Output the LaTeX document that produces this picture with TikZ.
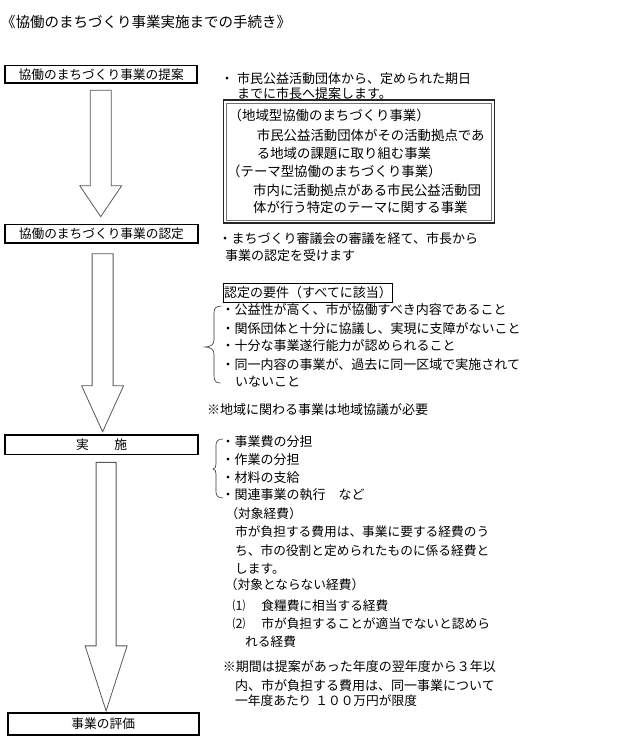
\documentclass[tikz,border=0pt]{standalone}
\usepackage{fontspec}
\setmainfont{Noto Sans CJK JP}
\usetikzlibrary{calc}
\newcommand{\blockarr}[5]{%
  \draw[blockarrow] let \p1=(#1), \p2=(#2) in
    (\x1-#4,\y1) -- (\x1+#4,\y1) -- (\x1+#4,\y2+#3) -- (\x1+#5,\y2+#3)
    -- (\x1,\y2) -- (\x1-#5,\y2+#3) -- (\x1-#4,\y2+#3) -- cycle;}
\tikzset{
  stagebox/.style={draw=black, line width=1.8pt, inner sep=0pt,
    font=\fontsize{12.7}{15}\selectfont},
  txt/.style={anchor=west, inner sep=0pt, text height=11.4pt, text depth=1.6pt,
    font=\fontsize{13}{15}\selectfont},
  txtb/.style={txt, font=\fontsize{13.4}{15}\selectfont},
  txtc/.style={txt, font=\fontsize{12.7}{15}\selectfont},
  blockarrow/.style={draw=black!65, line width=0.8pt, fill=white},
  bracestyle/.style={draw=black!80, line width=0.6pt},
  outerframe/.style={draw=black!85, line width=1.6pt, inner sep=0pt},
  innerframe/.style={draw=black!55, line width=0.6pt, inner sep=0pt},
  reqbox/.style={draw=black, line width=0.8pt, inner xsep=0.8pt, inner ysep=0pt,
    minimum height=19pt, anchor=west, font=\fontsize{13}{15}\selectfont},
}
\begin{document}
\begin{tikzpicture}[x=1pt,y=-1pt]
\useasboundingbox (0,0) rectangle (640,744);
\fill[white] (0,0) rectangle (640,744);

% title
\node[txt, font=\fontsize{14.5}{16}\selectfont, text height=12.8pt, text depth=1.7pt] (title) at (1,21.7) {《協働のまちづくり事業実施までの手続き》};

% stage boxes
\node[stagebox, minimum width=192.3pt, minimum height=17.3pt] (b1) at (101.2,74.2) {協働のまちづくり事業の提案};
\node[stagebox, minimum width=192.8pt, minimum height=18.3pt] (b2) at (101.4,233.7) {協働のまちづくり事業の認定};
\node[stagebox, minimum width=192.8pt, minimum height=19.3pt] (b3) at (101.6,444.8) {実　　施};
\node[stagebox, minimum width=190.9pt, minimum height=21.5pt] (b4) at (103.2,724) {事業の評価};

% block arrows
\coordinate (a1s) at ($(b1.south)+(-0.5,6.5)$);
\coordinate (a1e) at ($(b2.north)+(0,-7)$);
\coordinate (a2s) at ($(b2.south)+(1.2,10)$);
\coordinate (a2e) at ($(b3.north)+(0,-2.5)$);
\coordinate (a3s) at ($(b3.south)+(4.5,7)$);
\coordinate (a3e) at ($(b4.north)+(0,-1.5)$);
\blockarr{a1s}{a1e}{31pt}{10.5pt}{21pt}
\blockarr{a2s}{a2e}{46pt}{10.5pt}{21pt}
\blockarr{a3s}{a3e}{65pt}{10pt}{21pt}

% section 1
\node[txt] (s1a) at (220.5,78.3) {・\hspace{3.5pt}市民公益活動団体から、定められた期日};
\node[txt] (s1b) at (237,93.3) {までに市長へ提案します。};
\node[outerframe, minimum width=271pt, minimum height=123pt] (dbox) at (359,161.7) {};
\node[innerframe, minimum width=264.5pt, minimum height=116.5pt] (dboxin) at (dbox.center) {};
\node[txtb] (d1) at (228.5,115.3) {（地域型協働のまちづくり事業）};
\node[txtb] (d2) at (256.7,135.3) {市民公益活動団体がその活動拠点であ};
\node[txtb] (d3) at (256.7,153.3) {る地域の課題に取り組む事業};
\node[txtb] (d4) at (227,171.7) {（テーマ型協働のまちづくり事業）};
\node[txtb] (d5) at (253,190.8) {市内に活動拠点がある市民公益活動団};
\node[txtb] (d6) at (253,207.5) {体が行う特定のテーマに関する事業};

% section 2
\node[txt] (s2a) at (218.5,238.7) {・まちづくり審議会の審議を経て、市長から};
\node[txt] (s2b) at (225,255.3) {事業の認定を受けます};
\node[reqbox] (req) at (223,292.6) {認定の要件（すべてに該当）};
\node[txt] (r1) at (221.5,310) {・公益性が高く、市が協働すべき内容であること};
\node[txt] (r2) at (221.5,328.3) {・関係団体と十分に協議し、実現に支障がないこと};
\node[txt] (r3) at (221.5,345.7) {・十分な事業遂行能力が認められること};
\node[txt] (r4) at (221.5,364.3) {・同一内容の事業が、過去に同一区域で実施されて};
\node[txt] (r5) at (235,381.7) {いないこと};
\node[txt] (n1) at (207,410) {※地域に関わる事業は地域協議が必要};
\draw[bracestyle] (221.7,306) .. controls (216,306) and (214,308) .. (214,313)
  -- (214,340) .. controls (214,345) and (210,347) .. (205,347)
  .. controls (210,347) and (214,349) .. (214,354)
  -- (214,376) .. controls (214,381) and (216,383) .. (220.7,383);

% section 3
\node[txt] (e1) at (221.5,441.7) {・事業費の分担};
\node[txt] (e2) at (221.5,459.3) {・作業の分担};
\node[txt] (e3) at (221.5,477.3) {・材料の支給};
\node[txt] (e4) at (221.5,495) {・関連事業の執行　など};
\draw[bracestyle] (223,439) .. controls (218.5,439) and (216,441) .. (216,445)
  -- (216,464) .. controls (216,467) and (215,469) .. (213,469)
  .. controls (215,469) and (216,471) .. (216,474)
  -- (216,492) .. controls (216,496) and (218.5,498) .. (223,498);
\node[txtc] (e5) at (225.3,513.7) {（対象経費）};
\node[txtc] (e6) at (235,532) {市が負担する費用は、事業に要する経費のう};
\node[txtc] (e7) at (235,550.3) {ち、市の役割と定められたものに係る経費と};
\node[txtc] (e8) at (235,568.3) {します。};
\node[txtc] (e9) at (224.7,584.7) {（対象とならない経費）};
\node[txtc] (e10) at (232.5,605.3) {⑴\hspace{16pt}食糧費に相当する経費};
\node[txtc] (e11) at (232.5,623.7) {⑵\hspace{16pt}市が負担することが適当でないと認めら};
\node[txtc] (e12) at (245,641.7) {れる経費};
\node[txt] (n2a) at (222.7,667) {※期間は提案があった年度の翌年度から３年以};
\node[txt] (n2b) at (235,685.3) {内、市が負担する費用は、同一事業について};
\node[txtc] (n2c) at (235,700.3) {一年度あたり\hspace{4pt}１００万円が限度};
\end{tikzpicture}
\end{document}
